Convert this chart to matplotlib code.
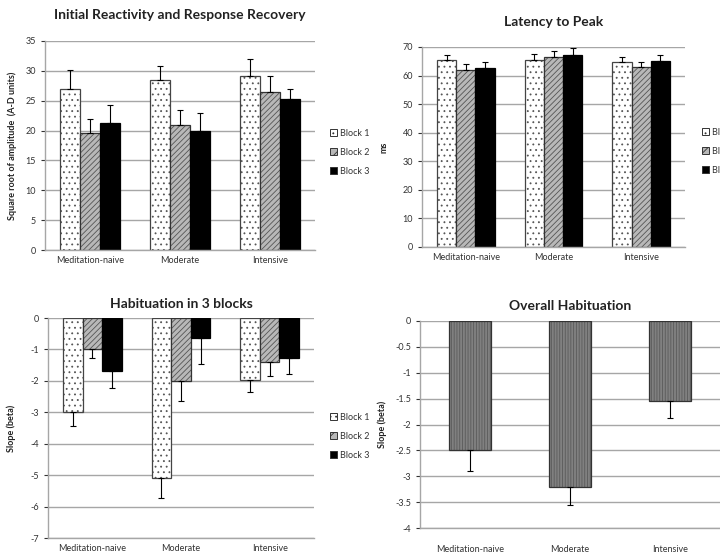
import matplotlib
matplotlib.use("Agg")
import matplotlib.pyplot as plt
from matplotlib.patches import Patch
import numpy as np

plt.rcParams['font.family'] = ['Lato', 'DejaVu Sans']
plt.rcParams['hatch.linewidth'] = 0.6

# data
groups = ['Meditation-naive', 'Moderate', 'Intensive']
blocks = ['Block 1', 'Block 2', 'Block 3']

react = [[27.0, 28.5, 29.2], [19.6, 21.0, 26.4], [21.2, 20.0, 25.3]]
react_err = [[3.1, 2.3, 2.8], [2.3, 2.5, 2.7], [3.0, 2.9, 1.7]]

latency = [[65.3, 65.6, 64.8], [62.0, 66.5, 63.1], [62.8, 67.1, 65.0]]
latency_err = [[1.9, 2.1, 1.7], [2.2, 2.1, 1.6], [1.8, 2.5, 2.1]]

habit = [[-3.0, -5.08, -1.98], [-0.98, -2.0, -1.4], [-1.7, -0.65, -1.28]]
habit_err = [[0.43, 0.65, 0.37], [0.30, 0.63, 0.44], [0.53, 0.80, 0.50]]

overall = [-2.5, -3.2, -1.55]
overall_err = [0.4, 0.35, 0.33]

W, H = 720, 556
fig = plt.figure(figsize=(W / 100, H / 100), dpi=100)

def box(l, r, t, b):
    return [l / W, (H - b) / H, (r - l) / W, (b - t) / H]

styles = [dict(facecolor='white', hatch='...', edgecolor='#444444'),
          dict(facecolor='#b8b8b8', hatch='//////', edgecolor='#333333'),
          dict(facecolor='black', hatch='', edgecolor='black')]

def style_ax(ax, ylim, step, fmt=None):
    ax.set_xlim(-0.5, 2.5)
    ax.set_ylim(*ylim)
    ticks = np.arange(ylim[0], ylim[1] + step / 2, step)
    ax.set_yticks(ticks)
    if fmt:
        ax.set_yticklabels([fmt(t) for t in ticks])
    ax.set_xticks(range(3))
    ax.set_xticklabels(groups)
    ax.tick_params(axis='x', length=0, labelsize=6.5, colors='#333333', pad=4)
    ax.tick_params(axis='y', length=3, labelsize=6.5, colors='#333333', width=0.8)
    ax.grid(axis='y', color='#a6a6a6', linewidth=1)
    ax.set_axisbelow(True)
    for s in ['top', 'right']:
        ax.spines[s].set_visible(False)
    ax.spines['left'].set_color('#a6a6a6')
    ax.spines['bottom'].set_color('#a6a6a6')
    ax.spines['left'].set_linewidth(1)
    ax.spines['bottom'].set_linewidth(1)

def grouped(ax, vals, errs, up=True):
    w = 0.22
    x = np.arange(3)
    for i in range(3):
        xi = x + (i - 1) * w
        st = styles[i]
        bars = ax.bar(xi, vals[i], w, color=st['facecolor'], hatch=st['hatch'],
                      edgecolor=st['edgecolor'], linewidth=0.9, zorder=2)
        for b in bars:
            b._hatch_color = matplotlib.colors.to_rgba('#555555')
        e = np.array(errs[i])
        yerr = [np.zeros(3), e] if up else [e, np.zeros(3)]
        ax.errorbar(xi, vals[i], yerr=yerr, fmt='none', ecolor='black',
                    elinewidth=0.8, capsize=2.5, capthick=0.8, zorder=3)

def block_legend(x, y):
    handles = []
    for st in styles:
        p = Patch(facecolor=st['facecolor'], hatch=st['hatch'] and st['hatch'][:3],
                  edgecolor='#333333', linewidth=0.7)
        handles.append(p)
    fig.legend(handles, blocks, loc='upper left', bbox_to_anchor=(x / W, (H - y) / H),
               frameon=False, fontsize=6.5, handlelength=0.8, handleheight=0.8,
               handletextpad=0.3, labelspacing=1.1, labelcolor='#333333',
               borderaxespad=0, borderpad=0)

title_kw = dict(fontsize=10, fontweight='bold', color='#222222')
ylab_kw = dict(fontsize=6.5, fontweight='bold', color='#222222')

# panel 1
ax1 = fig.add_axes(box(45, 315, 41, 250))
grouped(ax1, react, react_err, up=True)
style_ax(ax1, (0, 35), 5)
ax1.set_title('Initial Reactivity and Response Recovery', pad=16, **title_kw)
ax1.set_ylabel('Square root of amplitude  (A-D units)', labelpad=6, **ylab_kw)
block_legend(330, 129)

# panel 2
ax2 = fig.add_axes(box(422, 685, 47, 247))
grouped(ax2, latency, latency_err, up=True)
style_ax(ax2, (0, 70), 10)
ax2.set_title('Latency to Peak', pad=15, **title_kw)
ax2.set_ylabel('ms', labelpad=10, **ylab_kw)
block_legend(702, 128)

# panel 3
ax3 = fig.add_axes(box(48, 314, 318, 538))
grouped(ax3, habit, habit_err, up=False)
style_ax(ax3, (-7, 0), 1, fmt=lambda t: f'{int(t)}')
ax3.set_title('Habituation in 3 blocks', pad=7, **title_kw)
ax3.set_ylabel('Slope (beta)', labelpad=10, **ylab_kw)
block_legend(330, 413)

# panel 4
ax4 = fig.add_axes(box(420, 720, 321, 528))
bars = ax4.bar(range(3), overall, 0.42, color='#808080', hatch='||||||',
               edgecolor='#333333', linewidth=0.9, zorder=2)
for b in bars:
    b._hatch_color = matplotlib.colors.to_rgba('#5a5a5a')
ax4.errorbar(range(3), overall, yerr=[overall_err, np.zeros(3)], fmt='none',
             ecolor='black', elinewidth=0.8, capsize=2.5, capthick=0.8, zorder=3)
style_ax(ax4, (-4, 0), 0.5, fmt=lambda t: f'{t:g}')
ax4.tick_params(axis='x', pad=12)
ax4.set_title('Overall Habituation', pad=8, **title_kw)
ax4.set_ylabel('Slope (beta)', labelpad=6, **ylab_kw)

fig.savefig('out.png', dpi=100)
